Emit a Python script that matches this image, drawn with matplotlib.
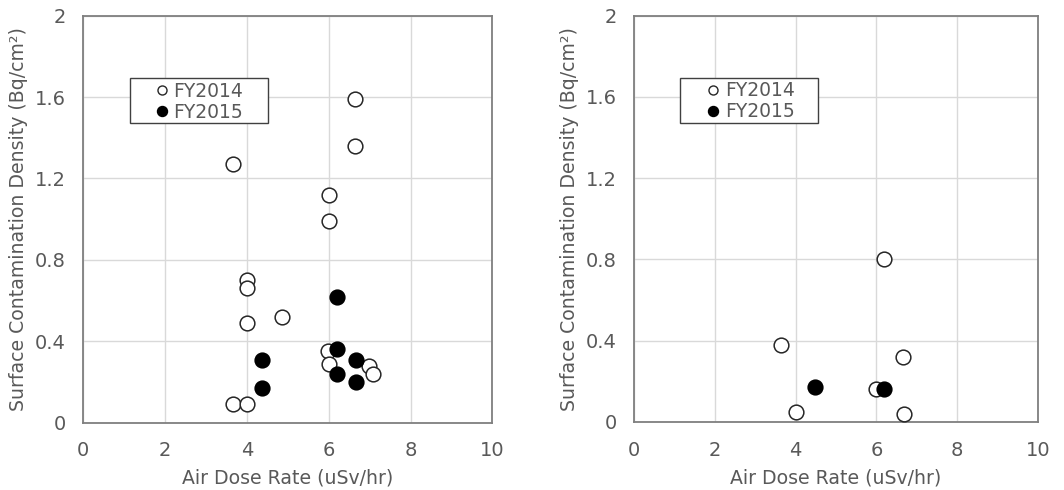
import matplotlib
matplotlib.use("Agg")
import matplotlib.pyplot as plt
from matplotlib.lines import Line2D
from matplotlib.patches import Rectangle

# Site A
a_2014_x = [3.65, 6.65, 6.65, 6.0, 6.0, 4.0, 4.0, 4.0, 4.87, 5.98, 6.0, 6.98, 7.09, 3.65, 4.0]
a_2014_y = [1.27, 1.59, 1.36, 1.12, 0.99, 0.70, 0.66, 0.49, 0.52, 0.35, 0.29, 0.28, 0.24, 0.09, 0.09]
a_2015_x = [6.2, 6.2, 4.38, 6.67, 6.2, 6.67, 4.38]
a_2015_y = [0.62, 0.36, 0.31, 0.31, 0.24, 0.20, 0.17]

# Site B
b_2014_x = [3.64, 6.19, 6.66, 5.98, 4.0, 6.67]
b_2014_y = [0.38, 0.80, 0.32, 0.16, 0.05, 0.04]
b_2015_x = [4.49, 6.19]
b_2015_y = [0.17, 0.16]

series_labels = ["FY2014", "FY2015"]
x_ticks = [0, 2, 4, 6, 8, 10]
y_ticks = [0, 0.4, 0.8, 1.2, 1.6, 2]
y_tick_labels = ["0", "0.4", "0.8", "1.2", "1.6", "2"]
x_label = "Air Dose Rate (uSv/hr)"
y_label = "Surface Contamination Density (Bq/cm²)"

text_color = "#595959"
grid_color = "#d9d9d9"
spine_color = "#7f7f7f"

plt.rcParams["font.family"] = ["DejaVu Sans"]

fig = plt.figure(figsize=(10.64, 4.9), dpi=100)
ax_left = fig.add_axes([0.0783, 0.1373, 0.3844, 0.8307])
ax_right = fig.add_axes([0.5959, 0.1388, 0.3797, 0.8292])


def draw_panel(ax, x14, y14, x15, y15, box, leg_anchor):
    ax.scatter(x14, y14, s=112, facecolors="white", edgecolors="#262626",
               linewidths=1.1, zorder=3)
    ax.scatter(x15, y15, s=112, facecolors="black", edgecolors="black",
               linewidths=1.1, zorder=4)
    ax.set_xlim(0, 10)
    ax.set_ylim(0, 2)
    ax.set_xticks(x_ticks)
    ax.set_yticks(y_ticks)
    ax.set_yticklabels(y_tick_labels)
    ax.grid(True, color=grid_color, linewidth=1.0, zorder=0)
    ax.set_axisbelow(True)
    ax.tick_params(length=0, labelsize=14, colors=text_color)
    ax.tick_params(axis="y", pad=12.5)
    ax.tick_params(axis="x", pad=13.5)
    for sp in ax.spines.values():
        sp.set_color(spine_color)
        sp.set_linewidth(1.3)
    ax.set_xlabel(x_label, fontsize=13.6, color=text_color, labelpad=6)
    ax.set_ylabel(y_label, fontsize=13.6, color=text_color, labelpad=5)

    # legend frame
    x0, y0, x1, y1 = box
    ax.add_patch(Rectangle((x0, y0), x1 - x0, y1 - y0, transform=ax.transAxes,
                           facecolor="white", edgecolor="#404040", linewidth=1.0,
                           zorder=5, clip_on=False))

    handles = [
        Line2D([], [], linestyle="none", marker="o", markersize=6.5,
               markerfacecolor="white", markeredgecolor="#262626", markeredgewidth=1.0),
        Line2D([], [], linestyle="none", marker="o", markersize=7.2,
               markerfacecolor="black", markeredgecolor="black", markeredgewidth=1.0),
    ]
    leg = ax.legend(handles, series_labels, loc="center left", bbox_to_anchor=leg_anchor,
                    fontsize=13.5, frameon=False, borderpad=0,
                    handlelength=0.8, handletextpad=0.22, labelspacing=0.1,
                    borderaxespad=0)
    leg.set_zorder(6)
    for t in leg.get_texts():
        t.set_color(text_color)


draw_panel(ax_left, a_2014_x, a_2014_y, a_2015_x, a_2015_y,
           (0.114, 0.7364, 0.4516, 0.847), (0.174, 0.789))
draw_panel(ax_right, b_2014_x, b_2014_y, b_2015_x, b_2015_y,
           (0.114, 0.7364, 0.455, 0.847), (0.177, 0.789))

fig.savefig("out.png", dpi=100)
